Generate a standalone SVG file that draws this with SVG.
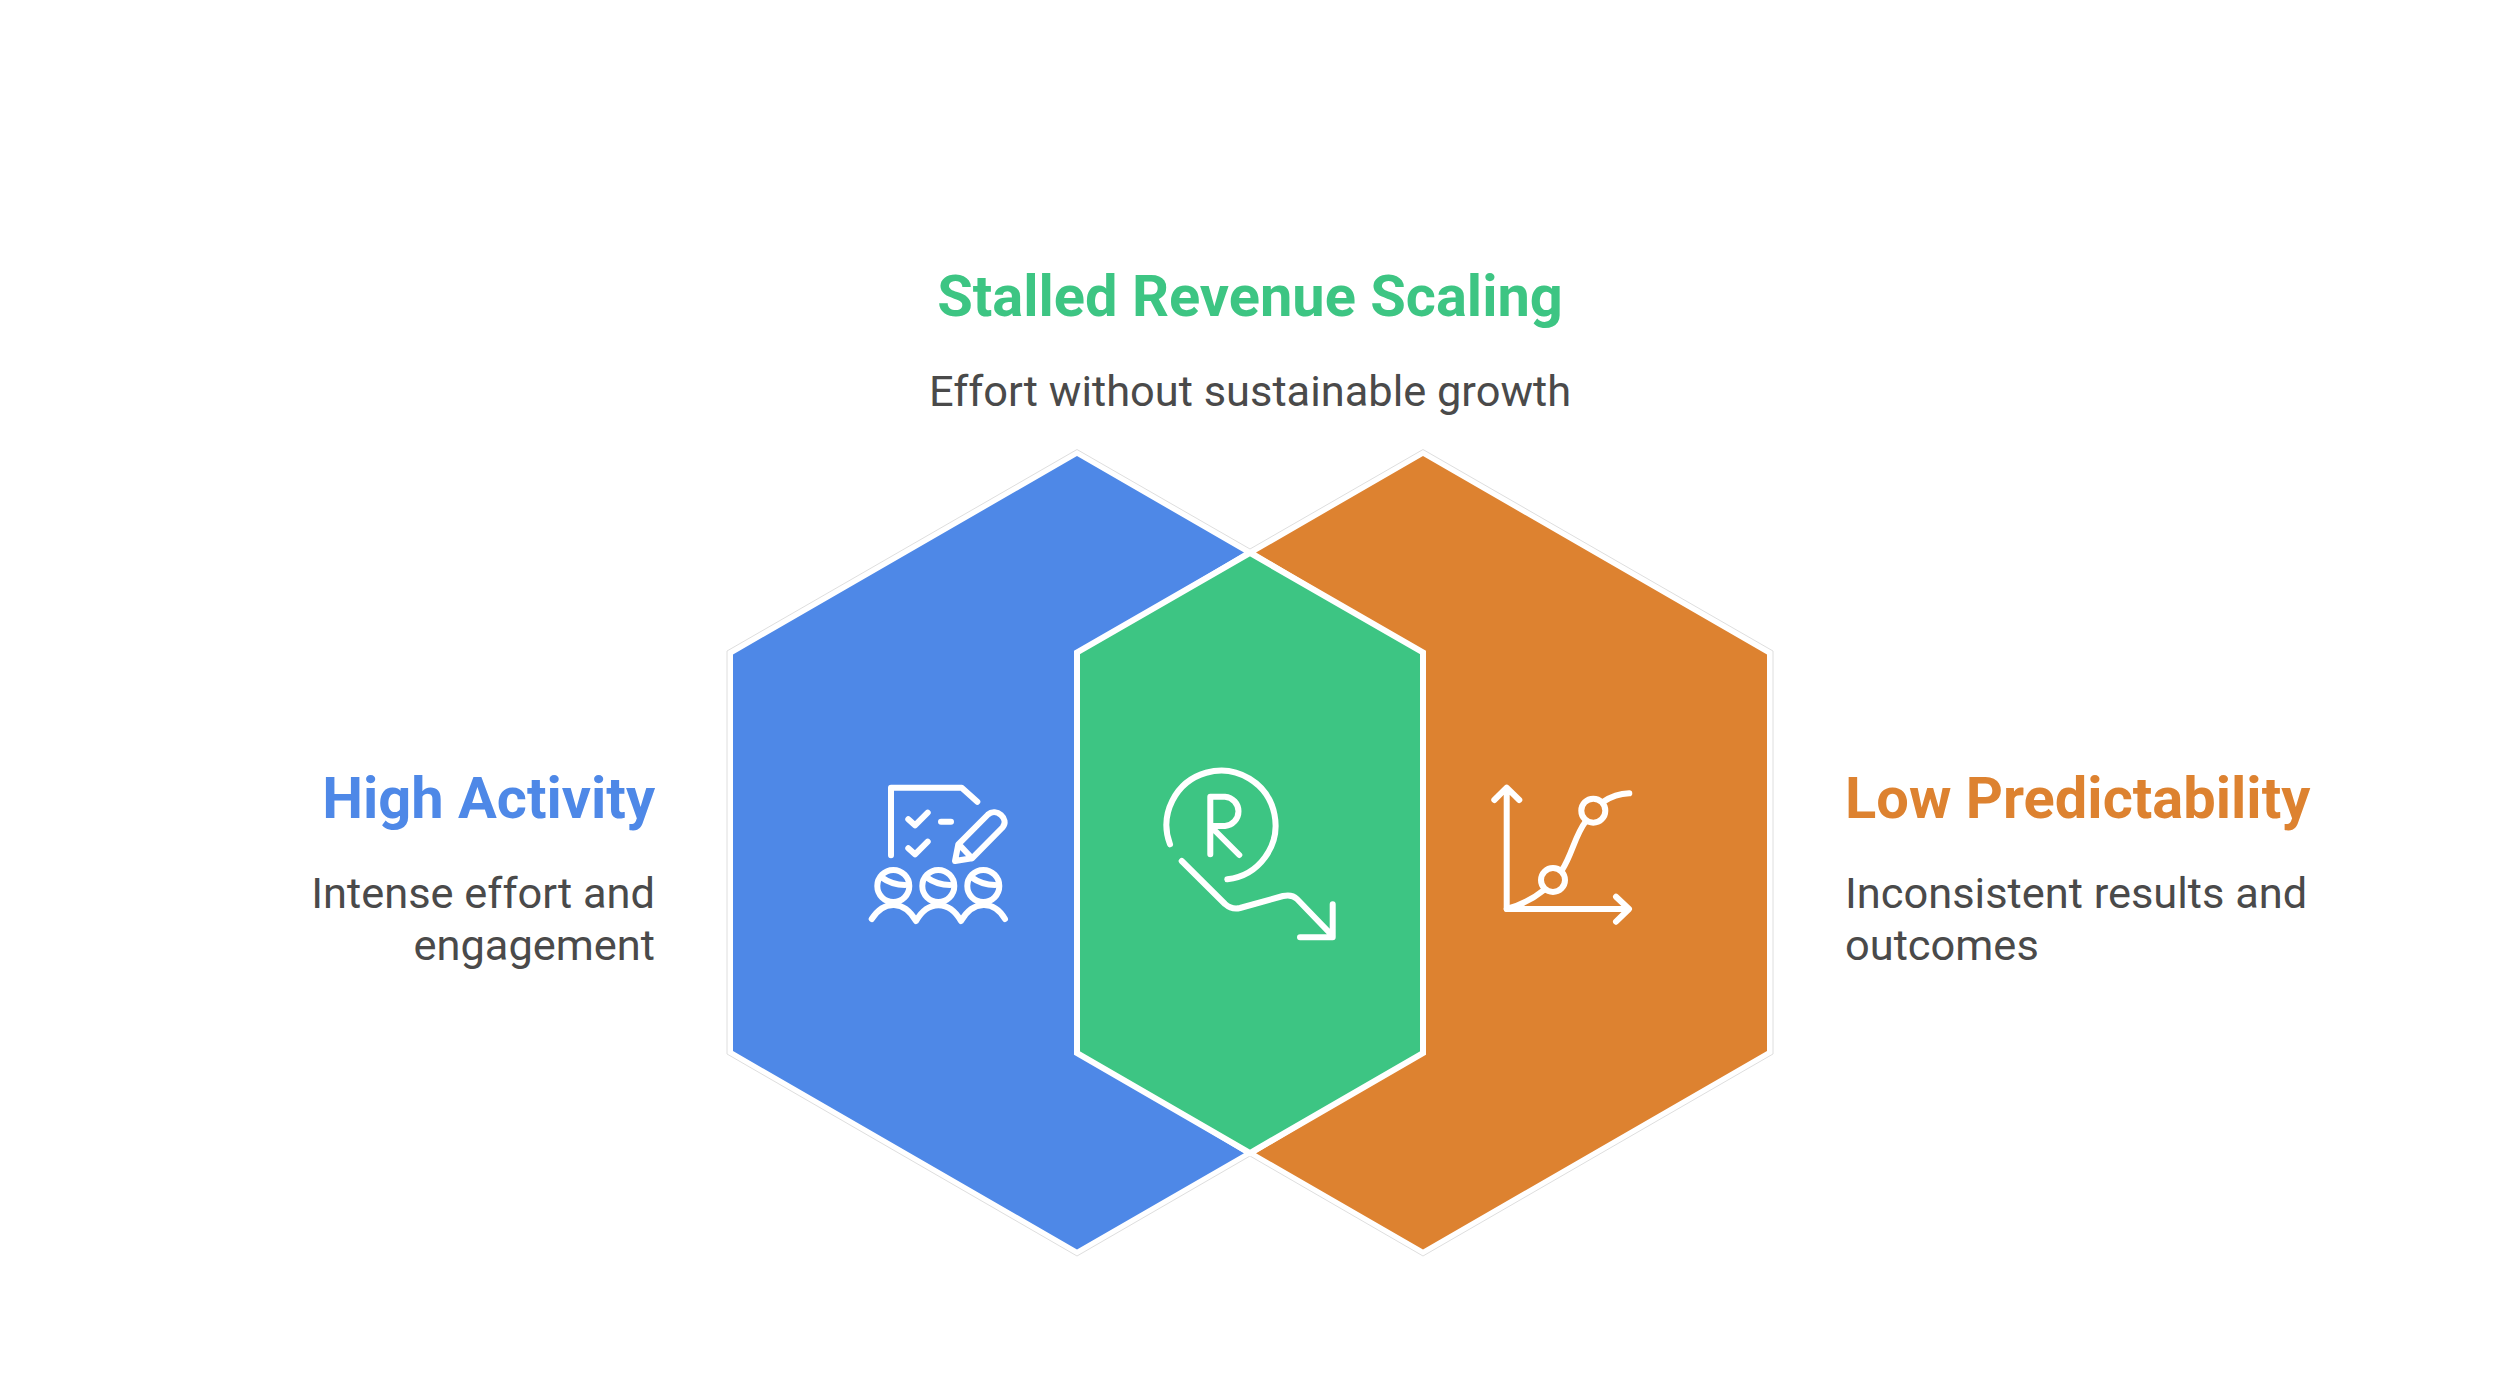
<svg xmlns="http://www.w3.org/2000/svg" width="2500" height="1391" viewBox="0 0 2500 1391">
<style>
.halo{fill:#fff;stroke:#dedede;stroke-width:1}
.icon{fill:none;stroke:#fff;stroke-width:6;stroke-linecap:round;stroke-linejoin:round}
.title{font-family:Roboto,"Liberation Sans",sans-serif;font-weight:700;font-size:57.8px}
.body{font-family:Roboto,"Liberation Sans",sans-serif;font-size:43.4px;fill:#4a4a4a}
</style>
<rect width="2500" height="1391" fill="#fff"/>
<g id="halo">
<polygon class="halo" points="1077,449.5 1250,549 1423,449.5 1773,651 1773,1054 1423,1256 1250,1156 1077,1256 727,1054 727,651"/>
</g>
<g id="node-high-activity">
<polygon fill="#4E88E7" points="1077,456 1244,552.5 1077,652 1077,1053 1244,1153.3 1077,1249.5 733,1051 733,654.5"/>
<path class="icon" d="M891,855.3V787.7H961.7L977.3,801.7M908.3,819.3L915,825.3L927.7,812.7M908.3,848.3L915,854.3L927.7,841.7M941,821.7H951"/>
<path class="icon" d="M958.3,844.3L988,814.5C996,807 1010,819 1002.5,827.5L972,858.3L955,861ZM960.5,846L972,858.3"/>
<circle class="icon" cx="893.3" cy="886" r="16"/><circle class="icon" cx="938.3" cy="886" r="16"/><circle class="icon" cx="983.3" cy="886" r="16"/>
<path class="icon" stroke-width="4" d="M881,877Q892,885 905,885M926,877Q937,885 950,885M971,877Q982,885 995,885"/>
<path class="icon" d="M871.7,919C884,900 904,900 916,921C928,900 949,900 961,921C973,900 994,900 1005,919"/>
<text class="title" x="655" y="817.5" text-anchor="end" fill="#4E88E7">High Activity</text>
<text class="body" x="655" y="907.5" text-anchor="end">Intense effort and</text>
<text class="body" x="655" y="959.5" text-anchor="end">engagement</text>
</g>
<g id="node-low-predictability">
<polygon fill="#DD8230" points="1423,456 1256,552.5 1423,652 1423,1053 1256,1153.3 1423,1249.5 1767,1051 1767,654.5"/>
<path class="icon" d="M1506.7,788.3V909H1628.3M1494.3,800L1506.7,787.7L1519.3,800M1616,896.7L1629,909L1616,921.7"/>
<circle class="icon" cx="1553" cy="880" r="12"/><circle class="icon" cx="1593.3" cy="810.7" r="12"/>
<path class="icon" d="M1506.7,909Q1528,903 1544,890M1562,870C1572,855 1575,835 1586,821M1603.3,801.7Q1615,794 1629.3,793.3"/>
<text class="title" x="1845" y="817.5" fill="#DD8230">Low Predictability</text>
<text class="body" x="1845" y="907.5">Inconsistent results and</text>
<text class="body" x="1845" y="959.5">outcomes</text>
</g>
<g id="node-stalled-revenue-scaling">
<polygon fill="#3DC583" stroke="#fff" stroke-width="6" points="1250,553 1423,652.5 1423,1053 1250,1153 1077,1053 1077,652.5"/>
<path class="icon" d="M1170,844.3A54.5,54.5 0 1 1 1227.3,879.3M1210.3,854.3V796.7H1225A14.7,14.7 0 0 1 1225,826H1210.3L1239.3,855M1181.7,861L1225,904Q1232,910 1240,908L1283,896Q1292,894 1297,899L1331.7,935M1300,937.3H1332.7V904.3"/>
<text class="title" x="1250" y="315.5" text-anchor="middle" fill="#3DC583">Stalled Revenue Scaling</text>
<text class="body" x="1250" y="405.5" text-anchor="middle">Effort without sustainable growth</text>
</g>
<g id="connectors"></g>
</svg>
